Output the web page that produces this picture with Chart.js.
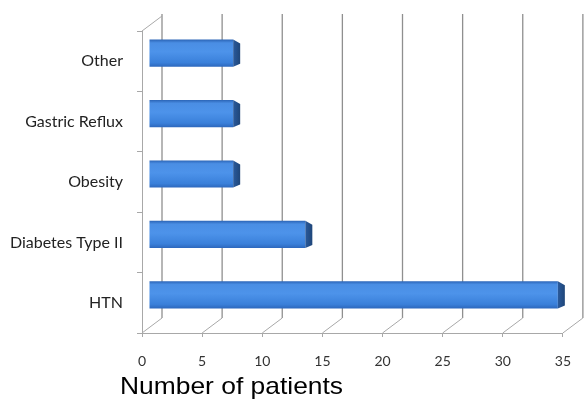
<!DOCTYPE html>
<html>
<head>
<meta charset="utf-8">
<script src="https://cdn.jsdelivr.net/npm/chart.js@4/dist/chart.umd.min.js"></script>
<style>
  body { margin: 0; background: #fff; }
  #wrap { position: relative; width: 587px; height: 400px; }
  #axisTitle {
    position: absolute; left: 120px; top: 374px;
    font-family: "Liberation Sans", Arial, sans-serif; font-size: 24px; line-height: 24px;
    color: #000; white-space: nowrap;
    transform: scaleX(1.1); transform-origin: left top;
  }
</style>
</head>
<body>
<div id="wrap">
  <canvas id="barChart" width="587" height="400"></canvas>
  <div id="axisTitle">Number of patients</div>
</div>
<script>
// data
const categories = ['Other', 'Gastric Reflux', 'Obesity', 'Diabetes Type II', 'HTN'];
const patients = [7, 7, 7, 13, 34];
const xTicks = [0, 5, 10, 15, 20, 25, 30, 35];

// fake 3d depth
const DEPTH_X = 20, DEPTH_Y = 15;
const BAR_DX = 7, BAR_DY = -8;

function barGradient(context) {
    const chart = context.chart;
    if (!chart.chartArea || !chart.scales.y) return '#4289e2';
    const y = chart.scales.y.getPixelForValue(context.dataIndex);
    const h = 27;
    const g = chart.ctx.createLinearGradient(0, y - h / 2, 0, y + h / 2);
    g.addColorStop(0, '#2c66b8');
    g.addColorStop(0.12, '#4a8ee4');
    g.addColorStop(0.45, '#4d93ea');
    g.addColorStop(0.85, '#3a80da');
    g.addColorStop(1, '#2d68bd');
    return g;
}

const depthPlugin = {
    id: 'depth',
    beforeDatasetsDraw(chart) {
        const ctx = chart.ctx;
        const area = chart.chartArea;
        const x = chart.scales.x;
        ctx.save();
        ctx.strokeStyle = '#8f8f8f';
        ctx.lineWidth = 1.3;
        xTicks.forEach(v => {
            const xf = x.getPixelForValue(v);
            const xb = xf + DEPTH_X;
            ctx.beginPath();
            ctx.moveTo(xb, area.top - DEPTH_Y - 2);
            ctx.lineTo(xb, area.bottom - DEPTH_Y);
            ctx.stroke();
        });
        ctx.strokeStyle = '#a8a8a8';
        ctx.lineWidth = 1;
        xTicks.forEach(v => {
            const xf = x.getPixelForValue(v);
            ctx.beginPath();
            ctx.moveTo(xf, area.bottom);
            ctx.lineTo(xf + DEPTH_X, area.bottom - DEPTH_Y);
            ctx.stroke();
        });
        ctx.beginPath();
        ctx.moveTo(area.left, area.top);
        ctx.lineTo(area.left + DEPTH_X, area.top - DEPTH_Y);
        ctx.stroke();
        ctx.restore();

        // bars sit in the middle of the depth
        ctx.save();
        ctx.translate(BAR_DX, BAR_DY);
    },
    afterDatasetsDraw(chart) {
        const ctx = chart.ctx;
        const meta = chart.getDatasetMeta(0);
        meta.data.forEach(bar => {
            const top = bar.y - bar.height / 2;
            const bottom = bar.y + bar.height / 2;
            const g = ctx.createLinearGradient(bar.x, 0, bar.x + 7, 0);
            g.addColorStop(0, '#2a5a9c');
            g.addColorStop(1, '#1f4679');
            ctx.fillStyle = g;
            ctx.beginPath();
            ctx.moveTo(bar.x, top);
            ctx.lineTo(bar.x + 7, top + 4);
            ctx.lineTo(bar.x + 7, bottom - 3);
            ctx.lineTo(bar.x, bottom);
            ctx.closePath();
            ctx.fill();
        });
        ctx.restore();
    }
};

new Chart(document.getElementById('barChart'), {
    type: 'bar',
    data: {
        labels: categories,
        datasets: [{
            data: patients,
            backgroundColor: barGradient,
            borderWidth: 0,
            barPercentage: 0.45,
            categoryPercentage: 1
        }]
    },
    options: {
        indexAxis: 'y',
        responsive: false,
        animation: false,
        layout: { padding: { top: 31, right: 21, left: 0, bottom: 0 } },
        plugins: { legend: { display: false }, tooltip: { enabled: false } },
        scales: {
            x: {
                min: 0,
                max: 35,
                afterBuildTicks: scale => { scale.ticks = xTicks.map(v => ({ value: v })); },
                afterFit: scale => { scale.height = 67; },
                grid: { drawOnChartArea: false, drawTicks: true, tickLength: 4, color: '#a8a8a8' },
                border: { display: true, color: '#a8a8a8', width: 1 },
                ticks: {
                    padding: 16,
                    color: '#333',
                    font: { family: 'Lato', size: 14 }
                }
            },
            y: {
                afterFit: scale => { scale.width = 142; },
                grid: { drawOnChartArea: false, drawTicks: true, tickLength: 5, offset: true, color: '#a8a8a8' },
                border: { display: true, color: '#a8a8a8', width: 1 },
                ticks: {
                    padding: 14,
                    color: '#222',
                    font: { family: 'Lato', size: 16 }
                }
            }
        }
    },
    plugins: [depthPlugin]
});
</script>
</body>
</html>
